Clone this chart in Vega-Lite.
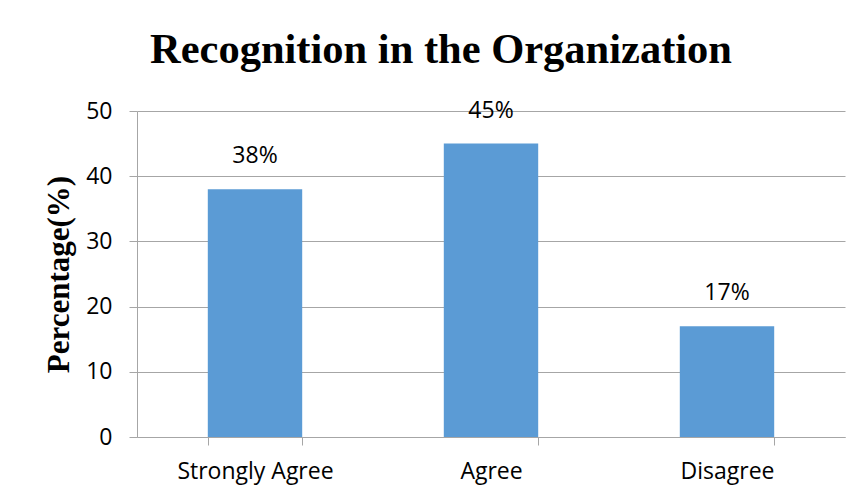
{
  "$schema": "https://vega.github.io/schema/vega-lite/v6.json",
  "width": 708,
  "height": 326,
  "autosize": {"type": "none"},
  "padding": {"left": 137, "top": 111, "right": 17, "bottom": 60},
  "background": "white",
  "title": {
    "text": "Recognition in the Organization",
    "font": "Liberation Serif",
    "fontSize": 42.5,
    "fontWeight": "bold",
    "color": "black",
    "anchor": "middle",
    "dx": -50,
    "offset": 28
  },
  "data": {
    "values": [
      {"response": "Strongly Agree", "pct": 38, "label": "38%"},
      {"response": "Agree", "pct": 45, "label": "45%"},
      {"response": "Disagree", "pct": 17, "label": "17%"}
    ]
  },
  "encoding": {
    "x": {
      "field": "response",
      "type": "nominal",
      "sort": null,
      "scale": {"paddingInner": 0.6, "paddingOuter": 0.3},
      "axis": {
        "title": null,
        "labelAngle": 0,
        "labelFont": "Open Sans",
        "labelFontSize": 23,
        "labelColor": "black",
        "labelPadding": 15,
        "domainColor": "#a6a6a6",
        "tickColor": "#a6a6a6",
        "tickBand": "extent",
        "tickSize": 8,
        "grid": false
      }
    },
    "y": {
      "field": "pct",
      "type": "quantitative",
      "scale": {"domain": [0, 50]},
      "axis": {
        "title": "Percentage(%)",
        "titleFont": "Liberation Serif",
        "titleFontSize": 31,
        "titleFontWeight": "bold",
        "titleColor": "black",
        "titlePadding": 10,
        "values": [0, 10, 20, 30, 40, 50],
        "labelFont": "Open Sans",
        "labelFontSize": 23,
        "labelColor": "black",
        "labelPadding": 17,
        "tickSize": 8,
        "tickColor": "#a6a6a6",
        "domainColor": "#a6a6a6",
        "gridColor": "#a6a6a6",
        "grid": true
      }
    }
  },
  "layer": [
    {"mark": {"type": "bar", "color": "#5b9bd5"}},
    {
      "mark": {"type": "text", "baseline": "bottom", "dy": -21, "font": "Open Sans", "fontSize": 23, "color": "black"},
      "encoding": {"text": {"field": "label"}}
    }
  ],
  "config": {"view": {"stroke": null}}
}
